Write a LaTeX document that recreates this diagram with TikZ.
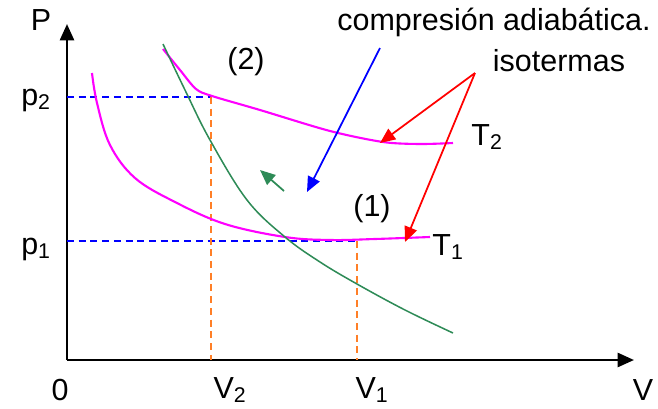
\documentclass[tikz,border=0pt]{standalone}
\usepackage{fontspec}
\setmainfont{Liberation Sans}
\usepackage{tikz}
\usetikzlibrary{arrows.meta, positioning, calc}

\definecolor{isocol}{RGB}{255,0,255}
\definecolor{adiacol}{RGB}{46,139,87}
\definecolor{volcol}{RGB}{255,127,39}

\tikzset{
    lbl/.style={font=\fontsize{26}{30}\selectfont, inner sep=1pt},
    axis/.style={line width=2.2pt, -{Triangle[length=14pt,width=12pt]}},
    guide/.style={dashed, line width=1.5pt, dash pattern=on 6pt off 4pt},
    pointer/.style={line width=1.5pt, -{Triangle[length=13pt,width=11pt]}}
}

\begin{document}
\begin{tikzpicture}[x=0.03cm, y=-0.03cm]
    \useasboundingbox (0,0) rectangle (658,408);

    % Axes
    \coordinate (O) at (67,360);
    \coordinate (ytop) at (67,24);
    \coordinate (xend) at (634,360);
    \draw[axis] (O) -- (ytop);
    \draw[axis] (O) -- (xend);
    \node[lbl] (P) at (41,20) {P};
    \node[lbl] (V) at (643,390) {V};
    \node[lbl] (zero) at (60,390) {0};

    % States
    \coordinate (s2) at (211,97);
    \coordinate (s1) at (357,241);

    % Dashed guides
    \draw[guide, blue] (O |- s2) -- (s2);
    \draw[guide, blue] (O |- s1) -- (s1);
    \draw[guide, volcol] (s2) -- (s2 |- O);
    \draw[guide, volcol] (s1) -- (s1 |- O);
    \node[lbl] (p2) at (36,100) {p\textsubscript{2}};
    \node[lbl] (p1) at (36,249) {p\textsubscript{1}};
    \node[lbl] (V2) at (230,390) {V\textsubscript{2}};
    \node[lbl] (V1) at (372,390) {V\textsubscript{1}};

    % Isotherms
    \draw[isocol, line width=1.8pt] plot[smooth, tension=0.5] coordinates
        {(163,49) (180,70) (196,89) (212,96) (260,110) (330,131) (383,142) (420,144) (453,143)};
    \draw[isocol, line width=1.8pt] plot[smooth, tension=0.6] coordinates
        {(92,73) (97,103) (110,145) (135,178) (175,202) (225,224) (285,237) (330,240) (375,239) (430,237)};
    \node[lbl, anchor=west] (T2) at (470,137) {T\textsubscript{2}};
    \node[lbl, anchor=west] (T1) at (431,247) {T\textsubscript{1}};

    % Adiabat
    \draw[adiacol, line width=1.3pt] plot[smooth, tension=0.6] coordinates
        {(163,44) (185,90) (210,140) (247,200) (285,237) (320,262) (357,284) (405,310) (453,333)};
    \coordinate (gtail) at (284,191);
    \coordinate (ghead) at (260,170);
    \draw[pointer, adiacol] (gtail) -- (ghead);

    % Labels and pointers
    \node[lbl] (st2) at (246,62) {(2)};
    \node[lbl] (st1) at (372,209) {(1)};
    \node[lbl] (adia) at (494,22) {compresión adiabática.};
    \node[lbl] (iso) at (559,61) {isotermas};
    \coordinate (atail) at (380,48);
    \coordinate (ahead) at (307,192);
    \draw[pointer, blue] (atail) -- (ahead);
    \coordinate (itail) at (475,73);
    \coordinate (ihead2) at (380,143);
    \coordinate (ihead1) at (405,242);
    \draw[pointer, red] (itail) -- (ihead2);
    \draw[pointer, red] (itail) -- (ihead1);
\end{tikzpicture}
\end{document}
